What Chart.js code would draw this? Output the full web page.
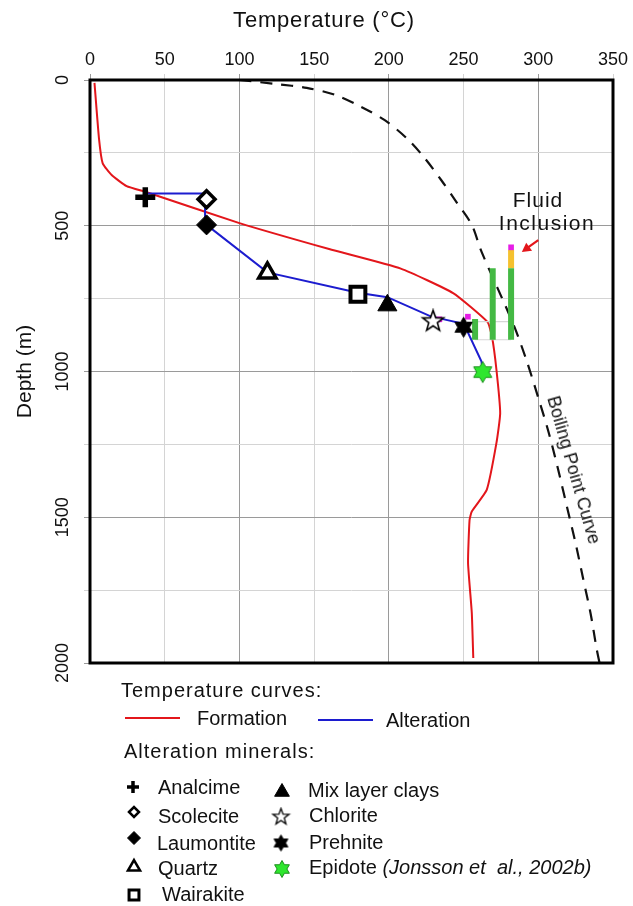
<!DOCTYPE html>
<html>
<head>
<meta charset="utf-8">
<script src="https://cdn.jsdelivr.net/npm/chart.js@4.4.0/dist/chart.umd.min.js"></script>
<style>
  body { margin: 0; background: #fff; font-family: "Liberation Sans", Arial, sans-serif; color: #111; }
  #wrap { position: relative; width: 633px; height: 906px; overflow: hidden; }
  #wrap canvas { position: absolute; left: 0; top: 0; }
  .t { position: absolute; white-space: nowrap; font-size: 20px; line-height: 22px; transform: translateY(-50%); }
  .c { transform: translate(-50%, -50%); }
  .ln { position: absolute; height: 2px; }
  .sym { position: absolute; }
</style>
</head>
<body>
<div id="wrap">
  <canvas id="geoChart" width="633" height="906"></canvas>

  <div class="t c" style="left:324px; top:20px; font-size:22px; letter-spacing:0.8px;">Temperature (°C)</div>

  <div class="t c" style="left:538px; top:200px; font-size:21px; letter-spacing:1px;">Fluid</div>
  <div class="t c" style="left:547px; top:223px; font-size:21px; letter-spacing:1.5px;">Inclusion</div>
  <div class="t" style="left:574px; top:470px; font-size:18px; transform:translate(-50%,-50%) rotate(74deg);">Boiling Point Curve</div>

  <div class="t" style="left:121px; top:690px; letter-spacing:1px;">Temperature curves:</div>
  <div class="ln" style="left:125px; top:717px; width:55px; background:#e3161b;"></div>
  <div class="t" style="left:197px; top:718px;">Formation</div>
  <div class="ln" style="left:318px; top:719px; width:55px; background:#1c1ccf;"></div>
  <div class="t" style="left:386px; top:720px;">Alteration</div>
  <div class="t" style="left:124px; top:751px; letter-spacing:1px;">Alteration minerals:</div>
  <div id="legendRows"></div>
</div>

<script>
// Temperature curves (°C vs depth m)
const formationTemp  = [3, 6, 8.5, 14.5, 24.5, 38, 100, 160, 208, 243, 266, 269, 272, 274.5, 272, 265.5, 255.5, 254, 253, 255.5, 256.5];
const formationDepth = [10, 200, 286, 326, 364, 385, 491, 580, 647, 731, 830, 880, 994, 1143, 1245, 1406, 1480, 1510, 1657, 1828, 1983];

const alterationTemp  = [37, 77, 77, 78, 118.7, 179.3, 199, 228, 248, 252, 262, 263];
const alterationDepth = [389, 389, 469, 497, 660, 730, 745, 811, 834, 856, 966, 1002];

const boilingTemp  = [100, 125, 145, 164, 181, 197, 212, 224, 235, 245, 255.5, 262, 283, 292, 300, 307, 313, 319, 325, 330, 335, 339, 341];
const boilingDepth = [0, 14, 27, 51, 91, 137, 200, 268, 343, 417, 497, 589, 834, 960, 1090, 1210, 1330, 1460, 1590, 1710, 1830, 1950, 2000];

// Alteration minerals
const minerals     = ['Analcime', 'Scolecite', 'Laumontite', 'Quartz', 'Wairakite', 'Mix layer clays', 'Chlorite', 'Prehnite', 'Epidote'];
const mineralTemp  = [37, 78, 78, 118.7, 179.3, 199, 229.6, 250, 262.8];
const mineralDepth = [402, 409, 497, 662, 735, 773, 828, 848, 1002];

// Fluid inclusion bars
const fiTemp      = [257.7, 269.5, 281.8];
const fiTop       = [820, 646, 646];
const fiBottom    = [891, 891, 891];
const fiOrange    = [583, 646];
const fiPinkTemp  = [233.8, 252.9, 281.8];
const fiPinkDepth = [821, 812, 574];

const xTicks = [0, 50, 100, 150, 200, 250, 300, 350];
const yTicks = [0, 500, 1000, 1500, 2000];

const FONT = '"Liberation Sans", Arial, sans-serif';

function pts(xs, ys) { return xs.map((x, i) => ({ x: x, y: ys[i] })); }

function starCanvas(n, outer, inner, fill, stroke, lw) {
	const s = Math.ceil(2 * outer + lw + 2);
	const c = document.createElement('canvas');
	c.width = s; c.height = s;
	const g = c.getContext('2d');
	g.beginPath();
	for (let i = 0; i < 2 * n; i++) {
		const r = i % 2 ? inner : outer;
		const a = -Math.PI / 2 + i * Math.PI / n;
		const px = s / 2 + r * Math.cos(a), py = s / 2 + r * Math.sin(a);
		if (i) g.lineTo(px, py); else g.moveTo(px, py);
	}
	g.closePath();
	g.fillStyle = fill;
	g.fill();
	if (lw) { g.lineWidth = lw; g.strokeStyle = stroke; g.stroke(); }
	return c;
}

// marker look per mineral, on the plot
const plotStyles = [
	{ pointStyle: 'cross', radius: 10, bg: '#000', border: '#000', bw: 5.5 },
	{ pointStyle: 'rectRot', radius: 8.5, bg: '#fff', border: '#000', bw: 3.5 },
	{ pointStyle: 'rectRot', radius: 10, bg: '#000', border: '#000', bw: 1 },
	{ pointStyle: 'triangle', radius: 10, bg: '#fff', border: '#000', bw: 3.5 },
	{ pointStyle: 'rect', radius: 10.5, bg: '#fff', border: '#000', bw: 4 },
	{ pointStyle: 'triangle', radius: 11, bg: '#000', border: '#000', bw: 1 },
	{ pointStyle: starCanvas(5, 11, 4.5, '#fff', '#000', 1.6), radius: 10, bg: '#fff', border: '#000', bw: 0 },
	{ pointStyle: starCanvas(6, 10, 5.8, '#000', '#000', 1), radius: 10, bg: '#000', border: '#000', bw: 0 },
	{ pointStyle: starCanvas(6, 10.5, 6.1, '#2ee62e', '#1b8f1b', 1), radius: 10, bg: '#2ee62e', border: '#1b8f1b', bw: 0 }
];
// and smaller, in the legend
const legendStyles = [
	{ pointStyle: 'cross', radius: 6, bg: '#000', border: '#000', bw: 3.5 },
	{ pointStyle: 'rectRot', radius: 5, bg: '#fff', border: '#000', bw: 2.5 },
	{ pointStyle: 'rectRot', radius: 6.5, bg: '#000', border: '#000', bw: 1 },
	{ pointStyle: 'triangle', radius: 7, bg: '#fff', border: '#000', bw: 2.5 },
	{ pointStyle: 'rect', radius: 7, bg: '#fff', border: '#000', bw: 3 },
	{ pointStyle: 'triangle', radius: 8.5, bg: '#000', border: '#000', bw: 1 },
	{ pointStyle: starCanvas(5, 8.5, 3.5, '#fff', '#000', 1.3), radius: 8, bg: '#fff', border: '#000', bw: 0 },
	{ pointStyle: starCanvas(6, 8, 4.6, '#000', '#000', 1), radius: 8, bg: '#000', border: '#000', bw: 0 },
	{ pointStyle: starCanvas(6, 8.5, 4.9, '#2ee62e', '#1b8f1b', 1), radius: 8, bg: '#2ee62e', border: '#1b8f1b', bw: 0 }
];

const datasets = [];

datasets.push({
	label: 'Boiling Point Curve', data: pts(boilingTemp, boilingDepth),
	borderColor: '#111', borderWidth: 2.2, borderDash: [12, 9], tension: 0.3,
	showLine: true, pointRadius: 0, order: 9
});
datasets.push({
	label: 'Formation', data: pts(formationTemp, formationDepth),
	borderColor: '#e3161b', borderWidth: 2, tension: 0.15,
	showLine: true, pointRadius: 0, order: 8
});
datasets.push({
	label: 'Alteration', data: pts(alterationTemp, alterationDepth),
	borderColor: '#1c1ccf', borderWidth: 2, tension: 0,
	showLine: true, pointRadius: 0, order: 7
});

// fluid inclusion frame (thin grey) and bars
[fiTop[0] + 9, fiBottom[0]].forEach(function(d) {
	datasets.push({
		data: [{ x: fiTemp[0], y: d }, { x: fiTemp[2], y: d }],
		borderColor: '#d6d6d6', borderWidth: 1.2, showLine: true, pointRadius: 0, order: 6
	});
});
fiTemp.forEach(function(t, i) {
	datasets.push({
		data: [{ x: t, y: fiTop[i] }, { x: t, y: fiBottom[i] }],
		borderColor: '#44b944', borderWidth: 6, borderCapStyle: 'butt',
		showLine: true, pointRadius: 0, order: 5
	});
});
datasets.push({
	data: [{ x: fiTemp[2], y: fiOrange[0] }, { x: fiTemp[2], y: fiOrange[1] }],
	borderColor: '#f5c12e', borderWidth: 6, borderCapStyle: 'butt',
	showLine: true, pointRadius: 0, order: 5
});
datasets.push({
	data: pts(fiPinkTemp, fiPinkDepth), showLine: false,
	pointStyle: 'rect', pointRadius: 4, backgroundColor: '#e61ee6', borderColor: '#e61ee6', borderWidth: 0, order: 4
});

minerals.forEach(function(name, i) {
	const st = plotStyles[i];
	datasets.push({
		label: name, data: [{ x: mineralTemp[i], y: mineralDepth[i] }], showLine: false,
		pointStyle: st.pointStyle, pointRadius: st.radius,
		backgroundColor: st.bg, borderColor: st.border, borderWidth: st.bw, order: 1
	});
});

const framePlugin = {
	id: 'frame',
	afterDatasetsDraw: function(chart) {
		const ctx = chart.ctx, sx = chart.scales.x, sy = chart.scales.y;
		// red arrow pointing at the fluid inclusion bar
		const x0 = sx.getPixelForValue(300), y0 = sy.getPixelForValue(549);
		const x1 = sx.getPixelForValue(289), y1 = sy.getPixelForValue(590);
		const a = Math.atan2(y1 - y0, x1 - x0);
		ctx.save();
		ctx.strokeStyle = ctx.fillStyle = '#e3161b';
		ctx.lineWidth = 2.2;
		ctx.beginPath();
		ctx.moveTo(x0, y0);
		ctx.lineTo(x1 - 6 * Math.cos(a), y1 - 6 * Math.sin(a));
		ctx.stroke();
		ctx.beginPath();
		ctx.moveTo(x1, y1);
		ctx.lineTo(x1 - 9 * Math.cos(a) + 5 * Math.sin(a), y1 - 9 * Math.sin(a) - 5 * Math.cos(a));
		ctx.lineTo(x1 - 9 * Math.cos(a) - 5 * Math.sin(a), y1 - 9 * Math.sin(a) + 5 * Math.cos(a));
		ctx.closePath();
		ctx.fill();
		ctx.restore();
	},
	afterDraw: function(chart) {
		const ctx = chart.ctx, a = chart.chartArea;
		ctx.save();
		ctx.strokeStyle = '#000';
		ctx.lineWidth = 3;
		ctx.strokeRect(a.left, a.top, a.right - a.left, a.bottom - a.top);
		ctx.restore();
	}
};

const ctx = document.getElementById('geoChart').getContext('2d');
const myChart = new Chart(ctx, {
	type: 'scatter',
	data: { datasets: datasets },
	options: {
		responsive: false,
		animation: false,
		layout: { padding: { left: 0, top: 0, right: 20, bottom: 243 } },
		plugins: { legend: { display: false }, tooltip: { enabled: false } },
		scales: {
			x: {
				type: 'linear', position: 'top', min: 0, max: 350,
				afterFit: function(s) { s.height = 80; },
				afterBuildTicks: function(s) { s.ticks = xTicks.map(v => ({ value: v })); },
				ticks: { padding: 3, color: '#111', autoSkip: false, maxRotation: 0, font: { size: 18, family: FONT } },
				grid: {
					color: c => (c.tick && c.tick.value % 100 === 0) ? '#9a9a9a' : '#d4d4d4',
					tickLength: 6
				},
				border: { display: false }
			},
			y: {
				type: 'linear', reverse: true, min: 0, max: 2000,
				afterFit: function(s) { s.width = 90; },
				ticks: {
					stepSize: 250, autoSkip: false, minRotation: 90, maxRotation: 90,
					crossAlign: 'center', padding: 1, color: '#111', font: { size: 18, family: FONT },
					callback: v => yTicks.indexOf(v) >= 0 ? String(v) : ''
				},
				grid: {
					color: c => (c.tick && c.tick.value % 500 === 0) ? '#9a9a9a' : '#d4d4d4',
					tickLength: 6
				},
				border: { display: false },
				title: { display: true, text: 'Depth (m)', color: '#111', font: { size: 21, family: FONT }, padding: { top: 13, bottom: 0 } }
			}
		}
	},
	plugins: [framePlugin]
});

// legend rows for the minerals: symbol x, y, text x, y
const legendPos = [
	[133, 787, 158, 787], [134, 812, 158, 816], [134, 838, 157, 843], [134, 867, 158, 868], [134, 895, 162, 894],
	[282, 792, 308, 790], [281, 817, 309, 815], [281, 843, 309, 842], [282, 869, 309, 867]
];
const rows = document.getElementById('legendRows');
minerals.forEach(function(name, i) {
	const p = legendPos[i], st = legendStyles[i];
	const c = document.createElement('canvas');
	c.width = 24; c.height = 24;
	c.className = 'sym';
	c.style.left = (p[0] - 12) + 'px';
	c.style.top = (p[1] - 12) + 'px';
	const g = c.getContext('2d');
	g.fillStyle = st.bg; g.strokeStyle = st.border; g.lineWidth = st.bw;
	Chart.helpers.drawPoint(g, { pointStyle: st.pointStyle, radius: st.radius, borderWidth: st.bw, rotation: 0 }, 12, 12);
	rows.appendChild(c);
	const d = document.createElement('div');
	d.className = 't';
	d.style.left = p[2] + 'px';
	d.style.top = p[3] + 'px';
	d.textContent = name;
	if (name === 'Epidote') {
		const em = document.createElement('i');
		em.textContent = ' (Jonsson et  al., 2002b)';
		em.style.whiteSpace = 'pre';
		d.appendChild(em);
	}
	rows.appendChild(d);
});
</script>
</body>
</html>
